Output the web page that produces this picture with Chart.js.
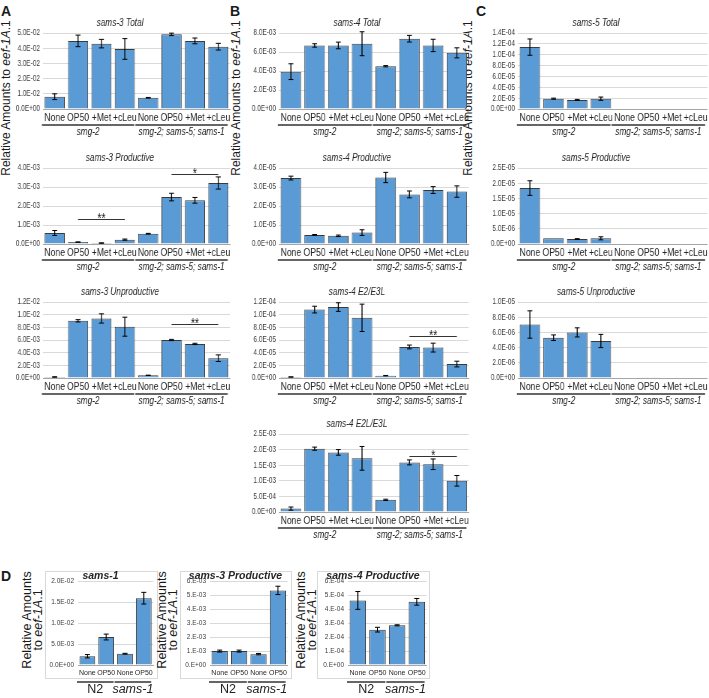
<!DOCTYPE html>
<html>
<head>
<meta charset="utf-8">
<script src="https://cdn.jsdelivr.net/npm/chart.js@4.4.1/dist/chart.umd.min.js"></script>
<style>
  body { margin:0; background:#fff; width:709px; height:698px; position:relative; overflow:hidden; font-family:'Liberation Sans',Arial,sans-serif; color:#1a1a1a; }
  .letter { position:absolute; font-weight:bold; font-size:14px; }
  .yt { position:absolute; white-space:nowrap; font-size:12px; line-height:11px; text-align:center; transform:translate(-50%,-50%) rotate(-90deg); }
  .yt.d { font-size:12.5px; }
  .box { position:absolute; border:1px solid #d9d9d9; box-sizing:border-box; }
  .wrap { position:absolute; transform-origin:0 0; }
</style>
</head>
<body>
<div class="letter" style="left:1px;top:3px">A</div>
<div class="letter" style="left:230px;top:3px">B</div>
<div class="letter" style="left:476px;top:3px">C</div>
<div class="letter" style="left:1px;top:568px">D</div>

<div class="yt" style="left:6px;top:98px">Relative Amounts to <i>eef-1A</i>.1</div>
<div class="yt" style="left:236px;top:98px">Relative Amounts to <i>eef-1A</i>.1</div>
<div class="yt" style="left:468px;top:98px">Relative Amounts to <i>eef-1A</i>.1</div>

<div class="box" style="left:45px;top:571px;width:113px;height:108px"></div>
<div class="box" style="left:180px;top:571px;width:112px;height:108px"></div>
<div class="box" style="left:317px;top:571px;width:113px;height:108px"></div>
<div class="yt d" style="left:33px;top:620px">Relative Amounts<br>to <i>eef-1A</i>.1</div>
<div class="yt d" style="left:168px;top:620px">Relative Amounts<br>to <i>eef-1A</i>.1</div>
<div class="yt d" style="left:307px;top:620px">Relative Amounts<br>to <i>eef-1A</i>.1</div>

<script>
// categories
const conds = ['None', 'OP50', '+Met', '+cLeu', 'None', 'OP50', '+Met', '+cLeu'];
const strains = ['smg-2', 'smg-2; sams-5; sams-1'];
const dConds = ['None', 'OP50', 'None', 'OP50'];
const dStrains = ['N2', 'sams-1'];

// A: sams-3
const sams3Total = [8.1e-3, 4.48e-2, 4.30e-2, 3.95e-2, 7.4e-3, 4.91e-2, 4.48e-2, 4.10e-2];
const sams3TotalErr = [1.9e-3, 3.8e-3, 2.8e-3, 6.8e-3, 2e-4, 8e-4, 1.9e-3, 2.2e-3];
const sams3Prod = [5.8e-4, 1.0e-4, 5e-5, 2.3e-4, 5.4e-4, 2.47e-3, 2.30e-3, 3.21e-3];
const sams3ProdErr = [1.3e-4, 1e-5, 1e-5, 3e-5, 2e-5, 2.0e-4, 1.5e-4, 3.2e-4];
const sams3Unprod = [1.6e-4, 9.03e-3, 9.4e-3, 8.1e-3, 4.2e-4, 6.0e-3, 5.38e-3, 3.13e-3];
const sams3UnprodErr = [3e-5, 1.8e-4, 7.3e-4, 1.5e-3, 3e-5, 1e-4, 1e-4, 5.2e-4];

// B: sams-4
const sams4Total = [3.93e-3, 6.69e-3, 6.69e-3, 6.87e-3, 4.5e-3, 7.4e-3, 6.69e-3, 5.91e-3];
const sams4TotalErr = [8.3e-4, 1.8e-4, 3.5e-4, 1.26e-3, 7e-5, 3.5e-4, 6.5e-4, 5.3e-4];
const sams4Prod = [3.47e-5, 4.8e-6, 4.3e-6, 6.0e-6, 3.5e-5, 2.61e-5, 2.84e-5, 2.76e-5];
const sams4ProdErr = [1e-6, 2e-7, 4e-7, 1.5e-6, 2.7e-6, 1.8e-6, 1.8e-6, 3e-6];
const sams4E2 = [1.6e-6, 1.08e-4, 1.12e-4, 9.5e-5, 3.7e-6, 4.9e-5, 4.8e-5, 2.2e-5];
const sams4E2Err = [2e-7, 5.3e-6, 6.8e-6, 2.16e-5, 3e-7, 3e-6, 7e-6, 4.5e-6];
const sams4E2L = [1.1e-4, 2.03e-3, 1.91e-3, 1.72e-3, 3.9e-4, 1.59e-3, 1.53e-3, 1.0e-3];
const sams4E2LErr = [5e-5, 5e-5, 9e-5, 3.8e-4, 2e-5, 8e-5, 1.7e-4, 1.7e-4];

// C: sams-5
const sams5Total = [1.14e-4, 1.9e-5, 1.67e-5, 1.9e-5, 0, 0, 0, 0];
const sams5TotalErr = [1.5e-5, 1e-6, 1e-6, 3e-6, 0, 0, 0, 0];
const sams5Prod = [1.84e-5, 1.87e-6, 1.65e-6, 1.87e-6, 0, 2e-7, 0, 0];
const sams5ProdErr = [2.4e-6, 0, 1e-7, 5e-7, 0, 0, 0, 0];
const sams5Unprod = [7.04e-6, 5.3e-6, 6.0e-6, 4.87e-6, 0, 1e-7, 0, 0];
const sams5UnprodErr = [1.8e-6, 3.7e-7, 6e-7, 8.7e-7, 0, 0, 0, 0];

// D
const dSams1 = [2.1e-3, 6.7e-3, 2.7e-3, 1.6e-2];
const dSams1Err = [4e-4, 7e-4, 1e-4, 1.4e-3];
const dSams3Prod = [1.0e-3, 1.0e-3, 7.8e-4, 5.36e-3];
const dSams3ProdErr = [7e-5, 7e-5, 5e-5, 3e-4];
const dSams4Prod = [4.64e-4, 2.54e-4, 2.85e-4, 4.54e-4];
const dSams4ProdErr = [6.4e-5, 1.7e-5, 4e-6, 2.4e-5];

// significance marks: between categories, at a value level
const sigA2 = [{ from: 1, to: 3, at: 1.32e-3, mark: '**' }, { from: 5, to: 7, at: 3.68e-3, mark: '*' }];
const sigA3 = [{ from: 5, to: 7, at: 8.46e-3, mark: '**' }];
const sigB3 = [{ from: 5, to: 7, at: 6.6e-5, mark: '**' }];
const sigB4 = [{ from: 5, to: 7, at: 1.8e-3, mark: '*' }];

const SANS = "'Liberation Sans',Arial,sans-serif";
const BLUE = '#5b9bd5', EDGE = '#3a3a3a', GRID = '#d9d9d9', TXT = '#262626';

// excel style scientific labels, e.g. 5.0E-02 or 6.E-04
function sci(v, dec) {
  if (Math.abs(v) < 1e-15) return dec ? '0.' + '0'.repeat(dec) + 'E+00' : '0.E+00';
  let e = Math.floor(Math.log10(Math.abs(v)) + 1e-9);
  let m = v / Math.pow(10, e);
  if (Math.abs(m) >= 9.9999) { e++; m = v / Math.pow(10, e); }
  const s = dec ? m.toFixed(dec) : Math.round(m) + '.';
  return s + 'E' + (e < 0 ? '-' : '+') + String(Math.abs(e)).padStart(2, '0');
}

const extras = {
  id: 'extras',
  afterDatasetsDraw(chart, args, o) {
    const { ctx, chartArea } = chart;
    const x = chart.scales.x, y = chart.scales.y;
    const vals = chart.data.datasets[0].data;
    ctx.save();
    ctx.strokeStyle = '#000';
    o.err.forEach((e, i) => {
      if (!e) return;
      const px = x.getPixelForValue(i);
      const y1 = y.getPixelForValue(Math.max(0, vals[i] - e)), y2 = y.getPixelForValue(vals[i] + e);
      ctx.beginPath();
      ctx.lineWidth = o.ew;
      ctx.moveTo(px, y1); ctx.lineTo(px, y2);
      ctx.stroke();
      ctx.beginPath();
      ctx.lineWidth = 1;
      ctx.moveTo(px - o.cap, y1); ctx.lineTo(px + o.cap, y1);
      ctx.moveTo(px - o.cap, y2); ctx.lineTo(px + o.cap, y2);
      ctx.stroke();
    });
    ctx.strokeStyle = '#333';
    ctx.fillStyle = '#222';
    ctx.lineWidth = 1;
    (o.sig || []).forEach(s => {
      const ly = Math.round(y.getPixelForValue(s.at)) + 0.5;
      ctx.beginPath();
      ctx.moveTo(x.getPixelForValue(s.from), ly);
      ctx.lineTo(x.getPixelForValue(s.to), ly);
      ctx.stroke();
      ctx.font = '14px ' + SANS;
      ctx.textAlign = 'center';
      ctx.textBaseline = 'alphabetic';
      ctx.fillText(s.mark, (x.getPixelForValue(s.from) + x.getPixelForValue(s.to)) / 2, ly + 3.5);
    });
    // strain groups under the axis
    const half = (x.getPixelForValue(1) - x.getPixelForValue(0)) / 2;
    const per = vals.length / o.groups.length;
    ctx.lineWidth = o.gw;
    o.groups.forEach((g, gi) => {
      const a = x.getPixelForValue(gi * per) - half - o.gx;
      const b = x.getPixelForValue(gi * per + per - 1) + half - 2 * o.gx;
      const ly = chartArea.bottom + o.lineOff;
      ctx.beginPath();
      ctx.moveTo(Math.max(a, 0), ly);
      ctx.lineTo(b, ly);
      ctx.stroke();
      ctx.font = (o.italic[gi] ? 'italic ' : '') + o.gfont;
      ctx.textAlign = 'center';
      ctx.textBaseline = 'middle';
      ctx.fillText(g, (a + b) / 2, ly + o.labOff);
    });
    ctx.restore();
  }
};

// o.sx squeezes the chart sideways, like the source figure
function bars(o) {
  const sx = o.sx;
  const wrap = document.createElement('div');
  const top = o.pt - o.th;
  const W = Math.round((o.r - o.l) / sx);
  const H = (o.pb - o.pt) + o.th + o.xh + o.padB;
  wrap.className = 'wrap';
  wrap.style.cssText = `left:${o.l}px;top:${top}px;width:${W}px;height:${H}px;transform:scaleX(${sx})`;
  const cv = document.createElement('canvas');
  cv.width = W;
  cv.height = H;
  wrap.appendChild(cv);
  document.body.appendChild(wrap);
  new Chart(cv, {
    type: 'bar',
    data: {
      labels: o.labels,
      datasets: [{
        data: o.data, backgroundColor: BLUE, borderColor: EDGE, borderWidth: o.bw,
        categoryPercentage: 1, barPercentage: o.bp
      }]
    },
    options: {
      responsive: false, animation: false, devicePixelRatio: 1,
      layout: { padding: { top: 0, left: 0, right: o.pr / sx, bottom: o.padB } },
      plugins: {
        legend: { display: false }, tooltip: { enabled: false },
        title: {
          display: true, text: o.title, color: TXT,
          font: { family: SANS, size: o.tsize, style: 'italic', weight: o.tbold ? 'bold' : 'normal', lineHeight: o.tlh },
          padding: o.tpad
        },
        extras: {
          err: o.err, sig: o.sig, groups: o.groups, italic: o.italic, cap: o.cap, ew: o.ew,
          lineOff: o.lineOff, labOff: o.labOff, gfont: o.gfont, gw: o.gw, gx: o.gx
        }
      },
      scales: {
        x: {
          grid: { display: false, drawTicks: false }, border: { color: '#a6a6a6' },
          ticks: { color: TXT, font: { size: o.xsize, family: SANS }, padding: o.xpad, maxRotation: 0, minRotation: 0, autoSkip: false },
          afterFit: s => { s.height = o.xh; }
        },
        y: {
          min: 0, max: o.max,
          grid: { color: GRID, drawTicks: false }, border: { display: false },
          ticks: { stepSize: o.step, autoSkip: false, color: '#404040', font: { family: SANS, size: o.ysize }, padding: 4, callback: v => sci(v, o.dec) },
          afterFit: s => { s.width = o.yw / sx; }
        }
      }
    },
    plugins: [extras]
  });
}

const cols = { A: { l: 10, yw: 33, r: 232, pr: 2 }, B: { l: 245, yw: 34, r: 471, pr: 2 }, C: { l: 484, yw: 34, r: 709, pr: 1 } };
const rows = [{ pt: 33, pb: 109 }, { pt: 168, pb: 244 }, { pt: 302, pb: 378 }, { pt: 434, pb: 512 }];

function main(col, row, title, data, err, max, step, sig) {
  bars(Object.assign({}, cols[col], rows[row], {
    sx: 0.75,
    title, data, err, max, step, sig, dec: 1,
    labels: conds, groups: strains, italic: [true, true],
    th: 18, tsize: 11, tlh: 1.2, tpad: { top: 1, bottom: 3.8 }, tbold: false,
    xh: 14, padB: 16, xpad: 2, xsize: 11.5,
    ysize: 8.6, bp: 0.86, bw: 1, cap: 3.3, ew: 1.3,
    lineOff: 16, labOff: 6.5, gfont: '11px ' + SANS, gw: 1.3, gx: 1.5
  }));
}

main('A', 0, 'sams-3 Total', sams3Total, sams3TotalErr, 5e-2, 1e-2, []);
main('A', 1, 'sams-3 Productive', sams3Prod, sams3ProdErr, 4e-3, 1e-3, sigA2);
main('A', 2, 'sams-3 Unproductive', sams3Unprod, sams3UnprodErr, 1.2e-2, 2e-3, sigA3);
main('B', 0, 'sams-4 Total', sams4Total, sams4TotalErr, 8e-3, 2e-3, []);
main('B', 1, 'sams-4 Productive', sams4Prod, sams4ProdErr, 4e-5, 1e-5, []);
main('B', 2, 'sams-4 E2/E3L', sams4E2, sams4E2Err, 1.2e-4, 2e-5, sigB3);
main('B', 3, 'sams-4 E2L/E3L', sams4E2L, sams4E2LErr, 2.5e-3, 5e-4, sigB4);
main('C', 0, 'sams-5 Total', sams5Total, sams5TotalErr, 1.4e-4, 2e-5, []);
main('C', 1, 'sams-5 Productive', sams5Prod, sams5ProdErr, 2.5e-5, 5e-6, []);
main('C', 2, 'sams-5 Unproductive', sams5Unprod, sams5UnprodErr, 1e-5, 2e-6, []);

function small(pos, title, data, err, max, step, dec) {
  bars(Object.assign({}, pos, {
    sx: 1, pt: 581, pb: 665,
    title, data, err, max, step, dec, sig: [],
    labels: dConds, groups: dStrains, italic: [false, true],
    th: 10, tsize: 10.5, tlh: 1, tpad: { top: 0, bottom: 0 }, tbold: true,
    xh: 12, padB: 21, xpad: 4, xsize: 7,
    ysize: 6.5, bp: 0.84, bw: 1, cap: 2.5, ew: 1,
    lineOff: 17, labOff: 8, gfont: '12.5px ' + SANS, gw: 1.5, gx: 1
  }));
}

small({ l: 46, yw: 32, r: 157, pr: 2 }, 'sams-1', dSams1, dSams1Err, 2e-2, 5e-3, 1);
small({ l: 181, yw: 29, r: 291, pr: 1 }, 'sams-3 Productive', dSams3Prod, dSams3ProdErr, 6e-3, 1e-3, 0);
small({ l: 318, yw: 30, r: 430, pr: 2 }, 'sams-4 Productive', dSams4Prod, dSams4ProdErr, 6e-4, 1e-4, 0);
</script>
</body>
</html>
